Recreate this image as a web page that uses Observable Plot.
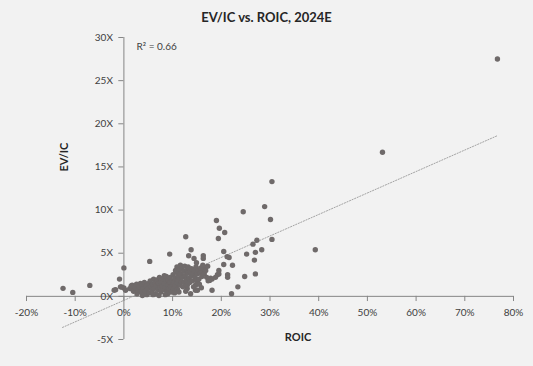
<!DOCTYPE html>
<html><head><meta charset="utf-8">
<script src="https://cdn.jsdelivr.net/npm/d3@7"></script>
<script src="https://cdn.jsdelivr.net/npm/@observablehq/plot@0.6"></script>
<style>
html,body{margin:0;padding:0;background:#f2f2f2;}
#title{width:533px;height:28px;box-sizing:border-box;padding-top:9px;line-height:17px;text-align:center;font:bold 13px Lato, sans-serif;color:#262626;}
</style></head><body>
<div id="title">EV/IC vs. ROIC, 2024E</div>
<div id="chart"></div>
<script>
// ROIC (%) and EV/IC (x) for each company
const roic = [
  76.7, 53.1, 39.3, 30.4, 28.9, 30.1, 24.5, 30.4, 19.0, 19.6, 20.7, 19.4, 12.7, 27.3, 26.5, 28.3, 25.2, 20.5, 21.2, 21.6,
  13.8, 13.3, 14.4, 14.9, 16.3, 16.3, 20.5, 22.3, 26.8, 27.0, 24.8, 21.3, 21.3, 19.5, 17.8, 17.3, 23.4, 22.1, 18.1, 15.9,
  15.1, 27.0, 9.4, 5.3, 0.0, -0.9, -12.5, -10.5, -7.0, -1.7, -0.5, 0.0, 16.4, 16.7, 16.1, 19.5, 19.2, 18.8, 18.1, 17.6,
  11.6, 10.9, 10.6, 14.7, 13.7, 15.1, 14.7, 13.0, 3.8, 4.7, 7.2, 8.3, 1.7, 1.9, 3.4, 3.3, 2.7, 4.1, 0.35, -0.7, -2.0,
  1.2, 1.5, 2.0, 2.3, 2.6, 2.9, 3.1, 3.5, 3.7, 3.9, 4.2, 4.4, 4.6, 4.9, 5.1, 5.2, 5.4, 5.6, 5.8, 5.9, 6.1, 6.2, 6.4, 6.5,
  6.7, 6.8, 7.0, 7.1, 7.3, 7.4, 7.6, 7.7,
  7.9, 8.0, 8.1, 8.3, 8.4, 8.6, 8.7, 8.8, 9.0, 9.1, 9.2, 9.4, 9.5, 9.6, 9.7, 9.9, 10.0, 10.1, 10.2, 10.3, 10.5, 10.6,
  10.8, 10.9, 11.0, 11.1, 11.2, 11.4, 11.5, 11.6, 11.8, 11.9, 12.0, 12.1, 12.3,
  12.4, 12.5, 12.6, 12.8, 12.9, 13.0, 13.1, 13.2, 13.4, 13.5, 13.6, 13.8, 13.9, 14.0, 14.2, 14.3, 14.4, 14.6, 14.8, 14.9,
  15.0, 15.3, 15.4, 15.5, 15.7, 15.8, 16.0, 16.2, 16.5, 16.8, 17.0, 17.2,
  9.0, 11.3, 12.7, 6.0, 8.5, 10.4
];
const evic = [
  27.5, 16.7, 5.4, 13.3, 10.4, 8.9, 9.8, 6.6, 8.8, 7.9, 7.4, 6.7, 6.9, 6.5, 6.05, 5.4, 4.9, 5.2, 4.6, 4.5,
  5.4, 4.7, 4.4, 3.9, 4.7, 4.4, 3.7, 3.6, 4.2, 2.6, 2.3, 2.5, 2.2, 2.6, 2.1, 1.8, 1.1, 0.3, 0.7, 1.0,
  0.7, 5.1, 4.9, 4.05, 3.3, 2.0, 0.93, 0.46, 1.27, 0.78, 1.08, 0.96, 3.4, 3.2, 2.9, 3.0, 2.5, 2.2, 2.0, 1.85,
  3.6, 3.4, 3.0, 0.7, 0.3, 1.65, 1.3, 0.9, 0.1, 0.2, 0.1, 2.4, 1.3, 0.7, 1.5, 0.7, 0.3, 0.3, 0.7, 1.1, 0.7,
  0.9, 1.2, 0.6, 1.0, 1.4, 0.8, 1.1, 0.5, 1.3, 0.9, 1.6, 0.6, 1.2, 0.9, 1.5, 0.4, 1.8, 1.1, 0.7, 1.4, 2.0, 0.9, 1.6, 0.3,
  1.2, 1.9, 0.8, 1.5, 2.2, 1.0, 0.5, 1.7,
  1.2, 2.0, 0.8, 1.5, 1.0, 1.8, 2.3, 0.6, 1.3, 1.9, 0.9, 1.6, 2.2, 1.1, 0.5, 1.8, 1.3, 2.5, 0.9, 1.6, 2.1, 1.2,
  2.8, 1.6, 0.8, 2.3, 1.9, 3.1, 1.3, 2.6, 1.7, 3.3, 2.2, 1.1, 2.9,
  1.6, 3.5, 2.4, 1.9, 3.0, 1.3, 2.7, 3.4, 2.1, 1.6, 2.9, 2.4, 3.2, 1.8, 2.6, 1.1, 3.0, 2.2, 3.4, 1.8,
  2.6, 3.0, 2.0, 1.4, 2.7, 3.3, 2.3, 3.6, 2.6, 3.0, 2.2, 3.5,
  0.3, 0.5, 0.6, 0.2, 0.2, 0.4
];
// Linear trendline endpoints
const trendRoic = [-12.6, 76.6];
const trendEvic = [-3.6, 18.6];
// Axis ticks
const xTicks = [-20, -10, 0, 10, 20, 30, 40, 50, 60, 70, 80];
const xTickLabels = ["-20%", "-10%", "0%", "10%", "20%", "30%", "40%", "50%", "60%", "70%", "80%"];
const yTicks = [-5, 0, 5, 10, 15, 20, 25, 30];
const yTickLabels = ["-5X", "0X", "5X", "10X", "15X", "20X", "25X", "30X"];
const r2Label = "R² = 0.66";

const points = roic.map((x, i) => ({x, y: evic[i]}));
const trend = trendRoic.map((x, i) => ({x, y: trendEvic[i]}));
const axisColor = "#868686";
const labelColor = "#404040";

const plot = Plot.plot({
  width: 533,
  height: 338,
  marginLeft: 26,
  marginRight: 20,
  marginTop: 9,
  marginBottom: 27,
  x: {domain: [-20, 80], axis: null},
  y: {domain: [-5, 30], axis: null},
  style: {background: "#f2f2f2", fontFamily: "Lato, sans-serif", fontSize: "10px", color: labelColor},
  marks: [
    Plot.ruleY([0], {stroke: axisColor}),
    Plot.ruleX([0], {stroke: axisColor}),
    Plot.ruleX(xTicks, {x: d => d, y1: 0, y2: -0.6, stroke: axisColor}),
    Plot.ruleY(yTicks, {y: d => d, x1: -1.05, x2: 0, stroke: axisColor}),
    Plot.text(xTicks, {x: d => d, y: 0, dy: 16, text: (d, i) => xTickLabels[i], fill: labelColor}),
    Plot.text(yTicks, {x: 0, y: d => d, dx: -11, textAnchor: "end", text: (d, i) => yTickLabels[i], fill: labelColor}),
    Plot.line(trend, {x: "x", y: "y", stroke: "#a3a3a3", strokeWidth: 1, strokeDasharray: "1.2,1.6"}),
    Plot.dot(points, {x: "x", y: "y", r: 2.7, fill: "#6f6a6a", stroke: "none"}),
    Plot.text([r2Label], {frameAnchor: "top-left", textAnchor: "start", lineAnchor: "middle", dx: 110, dy: 9, text: d => d, fill: labelColor}),
    Plot.text(["EV/IC"], {frameAnchor: "left", rotate: -90, dx: 38, dy: -17, text: d => d, fontWeight: "bold", fontSize: 11, fill: "#262626"}),
    Plot.text(["ROIC"], {frameAnchor: "bottom", lineAnchor: "middle", dx: 28, dy: -2, text: d => d, fontWeight: "bold", fontSize: 11, fill: "#262626"})
  ]
});
document.getElementById("chart").appendChild(plot);
</script>
</body></html>
